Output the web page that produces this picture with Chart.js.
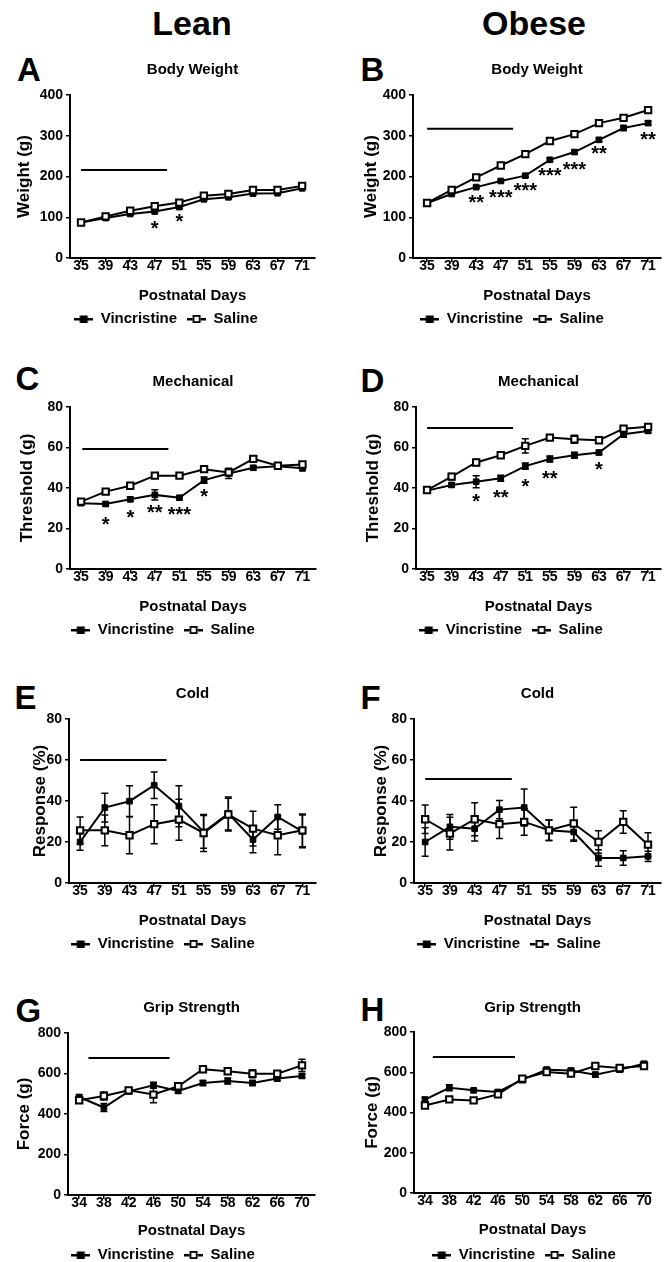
<!DOCTYPE html>
<html>
<head>
<meta charset="utf-8">
<script src="https://cdn.jsdelivr.net/npm/chart.js@4.4.1/dist/chart.umd.min.js"></script>
<style>
  html, body { margin: 0; padding: 0; background: #fff; overflow: hidden; }
  #page { position: relative; width: 672px; height: 1262px; overflow: hidden;
          font-family: "Liberation Sans", Arial, Helvetica, sans-serif; font-weight: bold; color: #000; }
  #page canvas { position: absolute; }
  .hdr { position: absolute; width: 200px; text-align: center; font-size: 34px; line-height: 1; }
  .tag { position: absolute; font-size: 33px; line-height: 1; }
</style>
</head>
<body>
<div id="page">
  <div class="hdr" style="left:92px; top:5.6px">Lean</div>
  <div class="hdr" style="left:434px; top:5.6px">Obese</div>
  <div class="tag" style="left:17px; top:52.7px">A</div>
  <div class="tag" style="left:360.6px; top:52.7px">B</div>
  <div class="tag" style="left:15.5px; top:361.7px">C</div>
  <div class="tag" style="left:360.6px; top:363.7px">D</div>
  <div class="tag" style="left:14.6px; top:680.7px">E</div>
  <div class="tag" style="left:360.6px; top:680.7px">F</div>
  <div class="tag" style="left:15.5px; top:993.7px">G</div>
  <div class="tag" style="left:360.6px; top:992.7px">H</div>
</div>
<script>
const family = '"Liberation Sans", Arial, Helvetica, sans-serif';

const days = [35, 39, 43, 47, 51, 55, 59, 63, 67, 71];
const gripDays = [34, 38, 42, 46, 50, 54, 58, 62, 66, 70];
const seriesNames = ['Vincristine', 'Saline'];

// A - lean, body weight
const leanWeightVin = [87, 98, 108, 114, 125, 144, 149, 158, 159, 171];
const leanWeightVinErr = [2, 3, 3, 3, 3, 3, 3, 3, 3, 3];
const leanWeightSal = [87, 102, 116, 127, 136, 153, 157, 167, 167, 177];
const leanWeightSalErr = [2, 3, 3, 3, 3, 3, 3, 3, 3, 3];
const leanWeightBar = [35, 49, 216];
const leanWeightStarDays = [47, 51];
const leanWeightStarVals = [83, 100];
const leanWeightStarMarks = ['*', '*'];

// B - obese, body weight
const obeseWeightVin = [135, 157, 174, 189, 202, 241, 260, 290, 319, 331];
const obeseWeightVinErr = [2, 3, 3, 3, 3, 4, 4, 5, 6, 5];
const obeseWeightSal = [135, 167, 198, 227, 255, 287, 304, 331, 344, 363];
const obeseWeightSalErr = [2, 3, 3, 3, 3, 3, 3, 3, 3, 4];
const obeseWeightBar = [35, 49, 317];
const obeseWeightStarDays = [43, 47, 51, 55, 59, 63, 71];
const obeseWeightStarVals = [147, 159, 177, 215, 229, 268, 302];
const obeseWeightStarMarks = ['**', '***', '***', '***', '***', '**', '**'];

// C - lean, mechanical
const leanMechVin = [32.5, 32.1, 34.4, 36.6, 35.2, 43.9, 47.2, 50, 50.8, 49.7];
const leanMechVinErr = [1, 1, 1, 2.5, 1, 1.5, 2.5, 1, 1, 1];
const leanMechSal = [33.3, 38.2, 41.1, 46.1, 46.1, 49.3, 47.7, 54.4, 51, 51.6];
const leanMechSalErr = [1, 1, 1, 1, 1, 1, 1, 1.5, 1, 1];
const leanMechBar = [35.2, 49.2, 59.3];
const leanMechStarDays = [39, 43, 47, 51, 55];
const leanMechStarVals = [24.4, 28, 30.3, 29, 38];
const leanMechStarMarks = ['*', '*', '**', '***', '*'];

// D - obese, mechanical
const obeseMechVin = [38.7, 41.5, 43.1, 44.8, 50.8, 54.3, 56.2, 57.5, 66.6, 68.2];
const obeseMechVinErr = [1, 1, 3, 1.5, 1.5, 1.5, 1.5, 1, 1.5, 1];
const obeseMechSal = [39, 45.6, 52.6, 56.2, 60.8, 64.9, 64.1, 63.6, 69.3, 70.2];
const obeseMechSalErr = [1, 1.5, 1.5, 1.5, 3.5, 1, 2, 1, 1, 1];
const obeseMechBar = [35, 49, 69.6];
const obeseMechStarDays = [43, 47, 51, 55, 63];
const obeseMechStarVals = [35.6, 37.5, 43, 47, 51.3];
const obeseMechStarMarks = ['*', '**', '*', '**', '*'];

// E - lean, cold
const leanColdVin = [20, 36.8, 39.9, 47.7, 37.5, 24.9, 33.9, 21.2, 32.2, 25.2];
const leanColdVinErr = [4, 7, 7.5, 6.5, 10, 8, 8, 6.5, 6, 8];
const leanColdSal = [25.7, 25.7, 23.3, 28.7, 30.9, 24.4, 33.4, 26.5, 23.3, 25.7];
const leanColdSalErr = [6.5, 7.5, 9, 9.5, 10, 9, 8, 8.5, 9.5, 8];
const leanColdBar = [35, 49, 60];

// F - obese, cold
const obeseColdVin = [20, 27.4, 26.5, 35.8, 36.8, 25.7, 24.9, 12.2, 12.2, 13];
const obeseColdVinErr = [7, 6, 6, 4.5, 9, 5, 4.5, 4, 3.5, 2.5];
const obeseColdSal = [31.1, 24.1, 31.1, 28.7, 29.8, 25.7, 29, 20, 29.8, 18.7];
const obeseColdSalErr = [7, 8, 8, 7, 6.5, 5, 8, 5.5, 5.5, 5.8];
const obeseColdBar = [35, 49, 50.7];

// G - lean, grip strength
const leanGripVin = [484, 432, 512, 542, 514, 553, 563, 553, 575, 588];
const leanGripVinErr = [10, 20, 12, 15, 12, 12, 15, 12, 12, 10];
const leanGripSal = [468, 489, 517, 496, 537, 621, 611, 599, 599, 640];
const leanGripSalErr = [10, 20, 10, 40, 10, 12, 12, 20, 12, 30];
const leanGripBar = [35.5, 48.6, 676];

// H - obese, grip strength
const obeseGripVin = [464, 523, 510, 502, 563, 613, 609, 588, 613, 642];
const obeseGripVinErr = [12, 15, 8, 10, 15, 10, 10, 12, 12, 12];
const obeseGripSal = [435, 465, 460, 490, 568, 601, 593, 631, 621, 631];
const obeseGripSalErr = [10, 10, 10, 8, 10, 10, 8, 8, 8, 10];
const obeseGripBar = [35.3, 48.8, 676];

// where each panel sits on the page (pixels)
const panels = [
  { col: 0, titleY: 70, left: 70, right: 315, top: 95, bottom: 258, xTitleY: 296, legendY: 319, legendCX: 166, yTitleX: 24,
    xMin: 33.2, xMax: 73.1, title: 'Body Weight', yTitle: 'Weight (g)', yMax: 400, yStep: 100, x: days,
    vin: leanWeightVin, vinErr: leanWeightVinErr, sal: leanWeightSal, salErr: leanWeightSalErr, bar: leanWeightBar,
    starDays: leanWeightStarDays, starVals: leanWeightStarVals, starMarks: leanWeightStarMarks },
  { col: 336, titleY: 70, left: 413, right: 661, top: 95, bottom: 258, xTitleY: 296, legendY: 319, legendCX: 512, yTitleX: 371,
    xMin: 32.7, xMax: 73.1, title: 'Body Weight', yTitle: 'Weight (g)', yMax: 400, yStep: 100, x: days,
    vin: obeseWeightVin, vinErr: obeseWeightVinErr, sal: obeseWeightSal, salErr: obeseWeightSalErr, bar: obeseWeightBar,
    starDays: obeseWeightStarDays, starVals: obeseWeightStarVals, starMarks: obeseWeightStarMarks },
  { col: 0, titleY: 382, left: 70, right: 316, top: 407, bottom: 569, xTitleY: 607, legendY: 630, legendCX: 163, yTitleX: 27,
    xMin: 33.2, xMax: 73.2, title: 'Mechanical', yTitle: 'Threshold (g)', yMax: 80, yStep: 20, x: days,
    vin: leanMechVin, vinErr: leanMechVinErr, sal: leanMechSal, salErr: leanMechSalErr, bar: leanMechBar,
    starDays: leanMechStarDays, starVals: leanMechStarVals, starMarks: leanMechStarMarks },
  { col: 336, titleY: 382, left: 416, right: 661, top: 407, bottom: 569, xTitleY: 607, legendY: 630, legendCX: 511, yTitleX: 373,
    xMin: 33.2, xMax: 73.1, title: 'Mechanical', yTitle: 'Threshold (g)', yMax: 80, yStep: 20, x: days,
    vin: obeseMechVin, vinErr: obeseMechVinErr, sal: obeseMechSal, salErr: obeseMechSalErr, bar: obeseMechBar,
    starDays: obeseMechStarDays, starVals: obeseMechStarVals, starMarks: obeseMechStarMarks },
  { col: 0, titleY: 694, left: 69, right: 316, top: 719, bottom: 883, xTitleY: 921, legendY: 944, legendCX: 163, yTitleX: 40,
    xMin: 33.2, xMax: 73.2, title: 'Cold', yTitle: 'Response (%)', yMax: 80, yStep: 20, x: days,
    vin: leanColdVin, vinErr: leanColdVinErr, sal: leanColdSal, salErr: leanColdSalErr, bar: leanColdBar,
    starDays: [], starVals: [], starMarks: [] },
  { col: 336, titleY: 694, left: 414, right: 661, top: 719, bottom: 883, xTitleY: 921, legendY: 944, legendCX: 509, yTitleX: 381,
    xMin: 33.2, xMax: 73.1, title: 'Cold', yTitle: 'Response (%)', yMax: 80, yStep: 20, x: days,
    vin: obeseColdVin, vinErr: obeseColdVinErr, sal: obeseColdSal, salErr: obeseColdSalErr, bar: obeseColdBar,
    starDays: [], starVals: [], starMarks: [] },
  { col: 0, titleY: 1008, left: 68, right: 315, top: 1033, bottom: 1195, xTitleY: 1231, legendY: 1255, legendCX: 163, yTitleX: 24,
    xMin: 32.2, xMax: 72.1, title: 'Grip Strength', yTitle: 'Force (g)', yMax: 800, yStep: 200, x: gripDays,
    vin: leanGripVin, vinErr: leanGripVinErr, sal: leanGripSal, salErr: leanGripSalErr, bar: leanGripBar,
    starDays: [], starVals: [], starMarks: [] },
  { col: 336, titleY: 1008, left: 414, right: 651, top: 1032, bottom: 1193, xTitleY: 1230, legendY: 1255, legendCX: 524, yTitleX: 372,
    xMin: 32.2, xMax: 71.15, title: 'Grip Strength', yTitle: 'Force (g)', yMax: 800, yStep: 200, x: gripDays,
    vin: obeseGripVin, vinErr: obeseGripVinErr, sal: obeseGripSal, salErr: obeseGripSalErr, bar: obeseGripBar,
    starDays: [], starVals: [], starMarks: [] }
];

function makeIcon(filled) {
  const c = document.createElement('canvas');
  c.width = 19; c.height = 10;
  const g = c.getContext('2d');
  g.fillStyle = '#000';
  g.fillRect(0, 4, 19, 2.5);
  if (filled) {
    g.fillRect(5.5, 1.5, 8, 7.5);
  } else {
    g.fillStyle = '#fff';
    g.fillRect(5.5, 1, 8, 8);
    g.strokeStyle = '#000';
    g.lineWidth = 1.8;
    g.strokeRect(6.4, 1.9, 6.2, 6.2);
  }
  return c;
}
const vinIcon = makeIcon(true);
const salIcon = makeIcon(false);

// error bars, treatment bar and significance stars
const marksPlugin = {
  id: 'marks',
  beforeDatasetsDraw(chart) {
    const { ctx, scales: { x, y } } = chart;
    ctx.save();
    ctx.strokeStyle = '#000';
    ctx.lineWidth = 1.5;
    chart.data.datasets.forEach(ds => {
      (ds.err || []).forEach((e, i) => {
        const pt = ds.data[i];
        const px = x.getPixelForValue(pt.x);
        const hi = y.getPixelForValue(pt.y + e);
        const lo = y.getPixelForValue(pt.y - e);
        ctx.beginPath();
        ctx.moveTo(px, hi); ctx.lineTo(px, lo);
        ctx.moveTo(px - 3.5, hi); ctx.lineTo(px + 3.5, hi);
        ctx.moveTo(px - 3.5, lo); ctx.lineTo(px + 3.5, lo);
        ctx.stroke();
      });
    });
    ctx.restore();
  },
  afterDatasetsDraw(chart, args, opts) {
    const { ctx, scales: { x, y } } = chart;
    ctx.save();
    const bar = opts.bar;
    ctx.strokeStyle = '#000';
    ctx.lineWidth = 2;
    ctx.beginPath();
    ctx.moveTo(x.getPixelForValue(bar[0]), y.getPixelForValue(bar[2]));
    ctx.lineTo(x.getPixelForValue(bar[1]), y.getPixelForValue(bar[2]));
    ctx.stroke();
    ctx.fillStyle = '#000';
    ctx.font = 'bold 20px ' + family;
    ctx.textAlign = 'center';
    ctx.textBaseline = 'alphabetic';
    opts.starDays.forEach((d, i) => {
      ctx.fillText(opts.starMarks[i], x.getPixelForValue(d), y.getPixelForValue(opts.starVals[i]) + 11.2);
    });
    ctx.restore();
  }
};

function buildPanel(p) {
  const cTop = p.titleY - 16;
  const legendTop = p.legendY - 17.5;
  const cH = Math.ceil(p.legendY + 17.5 - cTop);
  const padBottom = cH - (p.legendY + 17.5 - cTop);
  const yBoxLeft = Math.min(2 * p.legendCX - p.right, p.left - 36);
  const legendRight = 2 * p.legendCX - yBoxLeft;
  const padRight = Math.max(p.col + 336 - legendRight, 0);
  const rightW = Math.max(legendRight - p.right, 0);
  const xAxisH = legendTop - p.bottom;

  const canvas = document.createElement('canvas');
  canvas.width = 336;
  canvas.height = cH;
  canvas.style.left = p.col + 'px';
  canvas.style.top = cTop + 'px';
  document.getElementById('page').appendChild(canvas);

  const bold = size => ({ family: family, size: size, weight: 'bold' });
  const axisGrid = { display: true, drawOnChartArea: false, drawTicks: true, tickLength: 4, color: '#000', lineWidth: 1.5 };
  const axisBorder = { display: true, color: '#000', width: 2 };

  new Chart(canvas, {
    type: 'line',
    data: {
      datasets: [
        { label: seriesNames[1], data: p.x.map((d, i) => ({ x: d, y: p.sal[i] })), err: p.salErr,
          xAxisID: 'x', yAxisID: 'y',
          borderColor: '#000', borderWidth: 2, pointStyle: 'rect', pointRadius: 4.5,
          pointBackgroundColor: '#fff', pointBorderColor: '#000', pointBorderWidth: 2 },
        { label: seriesNames[0], data: p.x.map((d, i) => ({ x: d, y: p.vin[i] })), err: p.vinErr,
          xAxisID: 'x', yAxisID: 'y',
          borderColor: '#000', borderWidth: 2, pointStyle: 'rect', pointRadius: 4,
          pointBackgroundColor: '#000', pointBorderColor: '#000', pointBorderWidth: 1 }
      ]
    },
    options: {
      responsive: false,
      animation: false,
      events: [],
      layout: { padding: { left: yBoxLeft - p.col, right: padRight, top: 0, bottom: padBottom } },
      plugins: {
        title: { display: true, text: p.title, fullSize: false, color: '#000', font: bold(15),
                 padding: { top: 7, bottom: p.top - cTop - 7 - 18 } },
        legend: {
          position: 'bottom', align: 'center',
          labels: {
            usePointStyle: true, pointStyleWidth: 19, padding: 10, color: '#000', font: bold(15),
            generateLabels: () => [
              { text: seriesNames[0], pointStyle: vinIcon, fillStyle: '#000', strokeStyle: '#000', lineWidth: 0, hidden: false, datasetIndex: 1, fontColor: '#000' },
              { text: seriesNames[1], pointStyle: salIcon, fillStyle: '#fff', strokeStyle: '#000', lineWidth: 0, hidden: false, datasetIndex: 0, fontColor: '#000' }
            ]
          }
        },
        tooltip: { enabled: false },
        marks: { bar: p.bar, starDays: p.starDays, starVals: p.starVals, starMarks: p.starMarks }
      },
      scales: {
        x: {
          type: 'linear', position: 'bottom', min: p.xMin, max: p.xMax,
          afterBuildTicks: s => { s.ticks = p.x.map(v => ({ value: v })); },
          afterFit: s => { s.height = xAxisH; },
          grid: axisGrid, border: axisBorder,
          ticks: { color: '#000', font: { family: family, size: 14, weight: 'bold', lineHeight: 1 }, padding: -3, autoSkip: false, maxRotation: 0 },
          title: { display: true, text: 'Postnatal Days', color: '#000', font: bold(15),
                   padding: { top: 0, bottom: legendTop - 9 - p.xTitleY } }
        },
        y: {
          type: 'linear', position: 'left', min: 0, max: p.yMax,
          afterFit: s => { s.width = p.left - yBoxLeft; },
          grid: axisGrid, border: axisBorder,
          ticks: { stepSize: p.yStep, color: '#000', font: bold(14), padding: 3 },
          title: { display: true, text: p.yTitle, color: '#000', font: bold(17),
                   padding: { top: p.yTitleX - yBoxLeft - 10.2, bottom: 0 } }
        },
        y2: {
          type: 'linear', position: 'right', display: rightW > 0,
          afterFit: s => { s.width = rightW; },
          grid: { display: false }, border: { display: false }, ticks: { display: false }
        }
      }
    },
    plugins: [marksPlugin]
  });
}

panels.forEach(buildPanel);
</script>
</body>
</html>
